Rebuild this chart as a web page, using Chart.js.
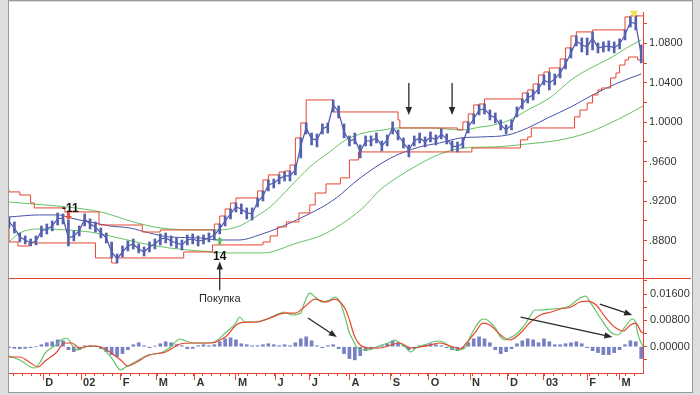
<!DOCTYPE html>
<html lang="ru">
<head>
    <meta charset="UTF-8">
    <title>EUR/USD</title>
    <style>
        html, body { margin: 0; padding: 0; background: #fff; }
        #wrap { width: 700px; height: 395px; }
    </style>
</head>
<body>
<div id="wrap"><canvas id="myChart" width="700" height="395"></canvas></div>

<script src="https://cdn.jsdelivr.net/npm/chart.js"></script>
<script>
    // x axis is counted in trading days from the first bar
    const monthDays = [19, 40, 62, 82, 103, 126, 148, 167, 189, 212, 233, 256, 277, 297, 321, 339];
    const monthLabels = ['D', '02', 'F', 'M', 'A', 'M', 'J', 'J', 'A', 'S', 'O', 'N', 'D', '03', 'F', 'M'];

    const priceTicks = [0.86, 0.88, 0.90, 0.92, 0.94, 0.96, 0.98, 1.00, 1.02, 1.04, 1.06, 1.08, 1.10];
    const priceLabels = [0.88, 0.92, 0.96, 1.00, 1.04, 1.08];
    const macdTicks = [-0.004, 0, 0.004, 0.008, 0.012, 0.016, 0.020];
    const macdLabels = [0, 0.008, 0.016];

    const barStep = 3; // one plotted bar every 3 trading days

    const priceHigh = [
        0.9040, 0.8990, 0.8878, 0.8848, 0.8817, 0.8848, 0.8949, 0.8969, 0.9000, 0.9081,
        0.9071, 0.9010, 0.8899, 0.8949, 0.9071, 0.9020, 0.8990, 0.8929, 0.8878, 0.8787,
        0.8665, 0.8746, 0.8797, 0.8817, 0.8767, 0.8736, 0.8787, 0.8817, 0.8868, 0.8878,
        0.8848, 0.8828, 0.8807, 0.8858, 0.8868, 0.8848, 0.8858, 0.8878, 0.8909, 0.8969,
        0.9050, 0.9121, 0.9182, 0.9172, 0.9132, 0.9132, 0.9233, 0.9304, 0.9415, 0.9425,
        0.9466, 0.9496, 0.9506, 0.9567, 0.9841, 0.9993, 0.9891, 0.9881, 0.9983, 0.9993,
        1.0226, 1.0165, 0.9983, 0.9861, 0.9891, 0.9770, 0.9861, 0.9861, 0.9891, 0.9810,
        0.9871, 1.0003, 0.9922, 0.9841, 0.9770, 0.9861, 0.9891, 0.9851, 0.9902, 0.9871,
        0.9932, 0.9881, 0.9810, 0.9800, 0.9841, 1.0003, 1.0084, 1.0175, 1.0185, 1.0124,
        1.0094, 1.0023, 0.9972, 1.0023, 1.0155, 1.0236, 1.0297, 1.0327, 1.0388, 1.0479,
        1.0509, 1.0489, 1.0550, 1.0641, 1.0753, 1.0874, 1.0854, 1.0854, 1.0915, 1.0803,
        1.0813, 1.0824, 1.0813, 1.0844, 1.0935, 1.1067, 1.1077, 1.0783
    ];
    const priceLow = [
        0.8929, 0.8878, 0.8787, 0.8767, 0.8746, 0.8757, 0.8838, 0.8868, 0.8899, 0.8959,
        0.8969, 0.8746, 0.8797, 0.8848, 0.8949, 0.8919, 0.8888, 0.8828, 0.8777, 0.8625,
        0.8574, 0.8635, 0.8696, 0.8716, 0.8676, 0.8645, 0.8686, 0.8716, 0.8757, 0.8777,
        0.8746, 0.8726, 0.8706, 0.8757, 0.8767, 0.8746, 0.8767, 0.8787, 0.8807, 0.8868,
        0.8949, 0.9020, 0.9091, 0.9071, 0.9020, 0.9010, 0.9142, 0.9202, 0.9304, 0.9334,
        0.9375, 0.9405, 0.9405, 0.9466, 0.9638, 0.9881, 0.9770, 0.9750, 0.9881, 0.9891,
        1.0104, 1.0043, 0.9841, 0.9760, 0.9780, 0.9638, 0.9760, 0.9760, 0.9790, 0.9709,
        0.9760, 0.9881, 0.9821, 0.9739, 0.9648, 0.9760, 0.9790, 0.9750, 0.9800, 0.9770,
        0.9831, 0.9780, 0.9709, 0.9699, 0.9739, 0.9891, 0.9983, 1.0074, 1.0084, 1.0023,
        0.9993, 0.9922, 0.9881, 0.9922, 1.0054, 1.0135, 1.0195, 1.0226, 1.0287, 1.0378,
        1.0327, 1.0378, 1.0449, 1.0540, 1.0651, 1.0773, 1.0712, 1.0682, 1.0732, 1.0702,
        1.0712, 1.0722, 1.0702, 1.0743, 1.0834, 1.0965, 1.0935, 1.0601
    ];
    const priceClose = [
        0.8990, 0.8929, 0.8838, 0.8807, 0.8777, 0.8797, 0.8899, 0.8919, 0.8949, 0.9020,
        0.9030, 0.8828, 0.8848, 0.8899, 0.9020, 0.8969, 0.8939, 0.8878, 0.8828, 0.8686,
        0.8615, 0.8686, 0.8746, 0.8767, 0.8716, 0.8686, 0.8736, 0.8767, 0.8817, 0.8828,
        0.8797, 0.8777, 0.8757, 0.8807, 0.8817, 0.8797, 0.8807, 0.8828, 0.8858, 0.8919,
        0.9000, 0.9071, 0.9142, 0.9121, 0.9081, 0.9071, 0.9192, 0.9253, 0.9365, 0.9385,
        0.9425, 0.9456, 0.9456, 0.9517, 0.9760, 0.9942, 0.9831, 0.9821, 0.9932, 0.9962,
        1.0175, 1.0104, 0.9902, 0.9810, 0.9831, 0.9699, 0.9810, 0.9810, 0.9841, 0.9760,
        0.9821, 0.9952, 0.9871, 0.9790, 0.9719, 0.9810, 0.9841, 0.9800, 0.9851, 0.9821,
        0.9881, 0.9831, 0.9760, 0.9750, 0.9790, 0.9952, 1.0033, 1.0124, 1.0135, 1.0074,
        1.0043, 0.9972, 0.9922, 0.9972, 1.0104, 1.0185, 1.0246, 1.0277, 1.0337, 1.0428,
        1.0398, 1.0439, 1.0499, 1.0591, 1.0702, 1.0824, 1.0783, 1.0763, 1.0854, 1.0753,
        1.0763, 1.0773, 1.0753, 1.0793, 1.0884, 1.1016, 1.0996, 1.0682
    ];

    // [day, price]
    const maLine = [[0,0.9040],[17,0.9061],[28,0.9061],[34,0.9030],[45,0.8990],[56,0.8949],[67,0.8929],[78,0.8878],
        [89,0.8838],[106,0.8828],[117,0.8807],[128,0.8807],[139,0.8858],[151,0.8939],[162,0.9030],[173,0.9132],
        [181,0.9223],[195,0.9436],[212,0.9638],[228,0.9750],[239,0.9790],[251,0.9841],[262,0.9851],[277,0.9871],
        [288,0.9942],[299,1.0043],[312,1.0155],[324,1.0276],[338,1.0398],[351,1.0489]];
    const bandUpper = [[0,0.9192],[13,0.9172],[32,0.9142],[51,0.9091],[69,0.8990],[84,0.8929],[106,0.8909],[117,0.8909],
        [128,0.8949],[134,0.9010],[145,0.9142],[156,0.9344],[167,0.9547],[178,0.9699],[187,0.9821],[197,0.9891],
        [208,0.9922],[216,0.9942],[234,0.9942],[251,0.9922],[262,0.9952],[269,0.9972],[278,1.0023],[288,1.0124],
        [301,1.0256],[312,1.0428],[321,1.0530],[334,1.0651],[343,1.0753],[351,1.0834]];
    const bandLower = [[0,0.8787],[6,0.8878],[17,0.8919],[32,0.8909],[45,0.8888],[56,0.8848],[73,0.8777],[89,0.8726],
        [106,0.8696],[123,0.8676],[141,0.8676],[160,0.8777],[174,0.8858],[188,0.9010],[197,0.9142],[206,0.9314],
        [216,0.9446],[227,0.9567],[238,0.9668],[252,0.9739],[269,0.9750],[288,0.9780],[306,0.9821],[321,0.9891],
        [334,0.9993],[343,1.0074],[352,1.0165]];
    const chanUpper = [[0,0.9314],[6,0.9294],[12,0.9263],[14,0.9182],[31,0.9132],[50,0.9091],[74,0.8959],[84,0.8888],
        [114,0.8909],[117,0.8969],[120,0.9050],[123,0.9121],[126,0.9182],[138,0.9233],[141,0.9304],[144,0.9415],
        [150,0.9466],[153,0.9496],[156,0.9506],[159,0.9567],[162,0.9841],[165,0.9993],[180,1.0226],[216,1.0104],
        [217,1.0023],[249,0.9942],[252,0.9922],[255,1.0003],[258,1.0084],[261,1.0175],[264,1.0185],[285,1.0236],
        [288,1.0297],[291,1.0327],[294,1.0388],[297,1.0479],[300,1.0509],[306,1.0550],[309,1.0641],[312,1.0753],
        [315,1.0874],[324,1.0915],[342,1.0935],[345,1.1067],[348,1.1077],[352,1.1077]];
    const chanLower = [[0,0.8929],[5,0.8787],[11,0.8746],[48,0.8777],[57,0.8625],[60,0.8574],[97,0.8625],[113,0.8686],
        [141,0.8757],[145,0.8787],[149,0.8848],[154,0.8939],[161,0.8990],[167,0.9081],[170,0.9162],[176,0.9283],
        [184,0.9375],[189,0.9436],[194,0.9618],[257,0.9699],[284,0.9739],[288,0.9821],[290,0.9851],[314,0.9942],
        [317,1.0054],[321,1.0124],[324,1.0195],[327,1.0276],[329,1.0327],[334,1.0347],[337,1.0449],[339,1.0499],
        [342,1.0580],[344,1.0631],[346,1.0661],[349,1.0661],[352,1.0631]];

    // MACD panel, [day, value]
    const macdLine = [[0,-0.00283],[6,-0.00404],[12,-0.00617],[14,-0.00648],[17,-0.00496],[20,-0.00192],[26,0.00052],
        [29,0.00204],[32,0.00264],[35,0.00052],[38,-0.00100],[42,-0.00009],[48,0.00021],[53,-0.00100],[57,-0.00344],
        [62,-0.00708],[64,-0.00648],[70,-0.00465],[77,-0.00252],[84,-0.00192],[89,-0.00040],[95,0.00234],[98,0.00173],
        [103,0.00112],[109,0.00112],[114,0.00143],[120,0.00416],[126,0.00720],[128,0.00903],[131,0.00751],[137,0.00751],
        [142,0.00812],[148,0.00964],[153,0.01055],[157,0.00964],[162,0.01024],[164,0.01328],[167,0.01632],[170,0.01511],
        [174,0.01359],[178,0.01420],[181,0.01511],[184,0.01328],[187,0.00812],[189,0.00416],[191,0.00204],[193,-0.00009],
        [195,-0.00100],[199,-0.00100],[203,-0.00040],[207,0.00052],[212,0.00143],[214,0.00204],[217,0.00112],[220,-0.00009],
        [223,-0.00161],[226,-0.00040],[231,0.00052],[235,0.00143],[239,0.00173],[242,0.00112],[245,-0.00009],[248,-0.00100],
        [253,-0.00040],[256,0.00295],[259,0.00599],[262,0.00812],[264,0.00842],[267,0.00751],[270,0.00568],[273,0.00295],
        [276,0.00204],[278,0.00264],[281,0.00356],[284,0.00508],[287,0.00720],[289,0.00903],[292,0.01116],[295,0.01116],
        [301,0.01146],[310,0.01207],[317,0.01480],[320,0.01541],[323,0.01328],[328,0.00903],[334,0.00447],[338,0.00356],
        [342,0.00599],[346,0.00842],[348,0.00720],[349,0.00416],[352,-0.00009]];
    const signalLine = [[0,-0.00313],[6,-0.00313],[12,-0.00496],[16,-0.00617],[20,-0.00435],[26,-0.00192],[31,0.00112],
        [35,0.00112],[39,-0.00040],[45,0.00021],[51,-0.00009],[56,-0.00161],[62,-0.00404],[66,-0.00587],[70,-0.00496],
        [78,-0.00252],[87,-0.00161],[95,0.00082],[103,0.00112],[112,0.00112],[120,0.00295],[128,0.00720],[137,0.00751],
        [145,0.00872],[153,0.01024],[159,0.01024],[164,0.01207],[170,0.01450],[176,0.01359],[181,0.01450],[187,0.01116],
        [189,0.00812],[192,0.00295],[195,0.00052],[201,-0.00040],[206,-0.00040],[212,0.00052],[217,0.00112],[223,-0.00040],
        [228,-0.00009],[234,0.00052],[239,0.00112],[245,0.00021],[251,-0.00070],[253,0.00052],[259,0.00447],[263,0.00720],
        [267,0.00660],[273,0.00356],[278,0.00204],[284,0.00416],[289,0.00720],[295,0.00964],[301,0.01055],[306,0.01146],
        [312,0.01207],[317,0.01359],[321,0.01389],[326,0.01268],[331,0.00903],[337,0.00568],[341,0.00477],[345,0.00660],
        [348,0.00720],[351,0.00447],[352,0.00416]];
    const histValues = [
        -0.0003, -0.0005, -0.0006, -0.0005, -0.0003, 0, 0.0006, 0.0012, 0.0015, 0.0021,
        0.0018, -0.0009, -0.0015, -0.0009, 0.0003, 0.0003, 0.0002, -0.0006, -0.0015, -0.0024,
        -0.0030, -0.0021, -0.0009, 0.0006, 0.0012, 0.0003, -0.0003, 0.0002, 0.0009, 0.0015,
        0.0012, 0.0006, 0.0003, -0.0006, -0.0005, 0.0003, 0.0006, 0.0003, 0.0006, 0.0015,
        0.0024, 0.0027, 0.0021, 0.0009, 0.0006, 0.0003, 0.0003, 0.0006, 0.0009, 0.0006,
        0.0003, 0.0006, 0.0003, 0.0012, 0.0024, 0.0030, 0.0018, 0.0003, -0.0003, 0.0003,
        0.0006, -0.0006, -0.0021, -0.0036, -0.0040, -0.0027, -0.0012, -0.0006, -0.0003, 0.0003,
        0.0009, 0.0018, 0.0012, 0.0003, -0.0009, -0.0006, 0.0003, 0.0006, 0.0009, 0.0006,
        0.0003, -0.0003, -0.0009, -0.0012, -0.0003, 0.0012, 0.0024, 0.0030, 0.0024, 0.0012,
        -0.0009, -0.0021, -0.0015, -0.0006, 0.0009, 0.0018, 0.0024, 0.0021, 0.0012, 0.0024,
        0.0015, 0.0006, 0.0006, 0.0009, 0.0012, 0.0015, 0.0009, -0.0003, -0.0012, -0.0018,
        -0.0024, -0.0024, -0.0018, -0.0009, 0.0006, 0.0018, 0.0015, -0.0036
    ];

    // notes drawn on top
    const downArrowDays = [222, 246];
    const buyDay = 117;
    const macdArrows = [[166, 0.00872, 182, 0.00295], [284, 0.00903, 335, 0.00295], [328, 0.01298, 346, 0.00964]];

    const RED = '#e4462f';
    const GREEN = '#66c266';
    const BLUE = '#4a53a8';
    const BAR = '#5561ae';
    const INK = '#2a2a2a';
    const FONT = "'Liberation Sans', Arial, sans-serif";

    Chart.defaults.font.family = FONT;
    Chart.defaults.font.size = 11;
    Chart.defaults.color = '#333';

    const pts = arr => arr.map(p => ({ x: p[0], y: p[1] }));

    function arrow(c, x1, y1, x2, y2) {
        const a = Math.atan2(y2 - y1, x2 - x1);
        const len = 8, w = 3.2;
        c.beginPath();
        c.moveTo(x1, y1);
        c.lineTo(x2 - Math.cos(a) * len * 0.7, y2 - Math.sin(a) * len * 0.7);
        c.stroke();
        c.beginPath();
        c.moveTo(x2, y2);
        c.lineTo(x2 - len * Math.cos(a) + w * Math.sin(a), y2 - len * Math.sin(a) - w * Math.cos(a));
        c.lineTo(x2 - len * Math.cos(a) - w * Math.sin(a), y2 - len * Math.sin(a) + w * Math.cos(a));
        c.closePath();
        c.fill();
    }

    const decor = {
        id: 'decor',
        beforeDraw(chart) {
            const c = chart.ctx;
            c.save();
            c.fillStyle = '#dedede';
            c.fillRect(0, 0, chart.width, chart.height);
            c.fillStyle = '#ffffff';
            c.fillRect(9, 2, 683, 390);
            c.strokeStyle = '#999';
            c.lineWidth = 1;
            c.strokeRect(8.5, 0.5, 684, 392);
            c.restore();
        },
        afterDraw(chart) {
            const c = chart.ctx;
            const xs = chart.scales.x, ys = chart.scales.y, ms = chart.scales.y2;
            const area = chart.chartArea;
            c.save();
            c.strokeStyle = RED;
            c.lineWidth = 1;
            c.beginPath();
            // value axis line (starts a little below the top, as in the original)
            const ax = Math.round(ys.left) + 0.5;
            c.moveTo(ax, ys.top + 10);
            c.lineTo(ax, ms.bottom);
            // panel separator
            c.moveTo(area.left, Math.round(ys.bottom) + 0.5);
            c.lineTo(691, Math.round(ys.bottom) + 0.5);
            // weekly ticks on the date axis
            for (let d = 2; d < 352; d += 5) {
                const px = Math.round(xs.getPixelForValue(d)) + 0.5;
                c.moveTo(px, area.bottom);
                c.lineTo(px, area.bottom + 3);
            }
            c.stroke();

            // value labels of both panels
            c.fillStyle = '#333';
            c.font = '11px ' + FONT;
            c.textAlign = 'left';
            c.textBaseline = 'middle';
            priceLabels.forEach(v => {
                const s = v.toFixed(4);
                c.fillText(v < 1 ? s.slice(1) : s, ys.left + 6, ys.getPixelForValue(v));
            });
            macdLabels.forEach(v => {
                c.fillText(v.toFixed(5), ms.left + 7, ms.getPixelForValue(v));
            });

            c.strokeStyle = INK;
            c.fillStyle = INK;
            c.lineWidth = 1.3;
            downArrowDays.forEach(d => {
                const px = xs.getPixelForValue(d);
                arrow(c, px, ys.getPixelForValue(1.0398), px, ys.getPixelForValue(1.0074));
            });
            const bx = xs.getPixelForValue(buyDay);
            arrow(c, bx, ms.getPixelForValue(0.0172), bx, ys.getPixelForValue(0.8590));
            macdArrows.forEach(a => {
                arrow(c, xs.getPixelForValue(a[0]), ms.getPixelForValue(a[1]),
                         xs.getPixelForValue(a[2]), ms.getPixelForValue(a[3]));
            });

            c.textAlign = 'center';
            c.font = '11px ' + FONT;
            c.fillText('Покупка', bx, ms.getPixelForValue(0.0146));
            c.font = 'bold 12px ' + FONT;
            c.fillStyle = '#111';
            c.fillText('14', bx, ys.getPixelForValue(0.8636));
            c.fillText('-11', xs.getPixelForValue(34), ys.getPixelForValue(0.9125));

            // small signal markers
            let mx = xs.getPixelForValue(33), my = ys.getPixelForValue(0.9040);
            c.fillStyle = '#e8503a';
            c.fillRect(mx - 1.5, my - 5, 3, 4);
            c.beginPath(); c.moveTo(mx - 3.5, my - 1); c.lineTo(mx + 3.5, my - 1); c.lineTo(mx, my + 3); c.closePath(); c.fill();
            mx = xs.getPixelForValue(117); my = ys.getPixelForValue(0.8800);
            c.fillStyle = '#5fbf5f';
            c.fillRect(mx - 1.5, my, 3, 4);
            c.beginPath(); c.moveTo(mx - 3.5, my); c.lineTo(mx + 3.5, my); c.lineTo(mx, my - 4); c.closePath(); c.fill();
            mx = xs.getPixelForValue(347); my = ys.getPixelForValue(1.1090);
            c.fillStyle = '#f2e24a';
            c.beginPath(); c.moveTo(mx - 4, my - 4); c.lineTo(mx + 4, my - 4); c.lineTo(mx, my + 3); c.closePath(); c.fill();
            c.restore();
        }
    };

    const ctx = document.getElementById('myChart');
    const myChart = new Chart(ctx, {
        type: 'line',
        data: {
            datasets: [
                {
                    type: 'bar',
                    data: priceHigh.map((h, i) => ({ x: i * barStep, y: [priceLow[i], h] })),
                    yAxisID: 'y',
                    backgroundColor: BAR,
                    barThickness: 2,
                    grouped: false
                },
                {
                    data: priceClose.map((v, i) => ({ x: i * barStep, y: v })),
                    yAxisID: 'y',
                    borderColor: '#4b56a6',
                    borderWidth: 1.2,
                    pointRadius: 0
                },
                {
                    data: pts(signalLine),
                    yAxisID: 'y2',
                    borderColor: RED,
                    borderWidth: 1.2,
                    pointRadius: 0,
                    cubicInterpolationMode: 'monotone'
                },
                {
                    data: pts(macdLine),
                    yAxisID: 'y2',
                    borderColor: GREEN,
                    borderWidth: 1.2,
                    pointRadius: 0,
                    cubicInterpolationMode: 'monotone'
                },
                {
                    type: 'bar',
                    data: histValues.map((v, i) => ({ x: i * barStep, y: v })),
                    yAxisID: 'y2',
                    backgroundColor: '#7880c4',
                    barThickness: 3,
                    grouped: false
                },
                {
                    data: pts(chanUpper),
                    yAxisID: 'y',
                    borderColor: RED,
                    borderWidth: 1,
                    pointRadius: 0,
                    stepped: 'after'
                },
                {
                    data: pts(chanLower),
                    yAxisID: 'y',
                    borderColor: RED,
                    borderWidth: 1,
                    pointRadius: 0,
                    stepped: 'after'
                },
                {
                    data: pts(maLine),
                    yAxisID: 'y',
                    borderColor: BLUE,
                    borderWidth: 1,
                    pointRadius: 0,
                    cubicInterpolationMode: 'monotone'
                },
                {
                    data: pts(bandUpper),
                    yAxisID: 'y',
                    borderColor: GREEN,
                    borderWidth: 1,
                    pointRadius: 0,
                    cubicInterpolationMode: 'monotone'
                },
                {
                    data: pts(bandLower),
                    yAxisID: 'y',
                    borderColor: GREEN,
                    borderWidth: 1,
                    pointRadius: 0,
                    cubicInterpolationMode: 'monotone'
                }
            ]
        },
        options: {
            responsive: false,
            animation: false,
            devicePixelRatio: 1,
            events: [],
            layout: { padding: { left: 9, right: 0, top: 2, bottom: 2 } },
            plugins: { legend: { display: false }, tooltip: { enabled: false } },
            scales: {
                x: {
                    type: 'linear',
                    position: 'bottom',
                    min: 0,
                    max: 352,
                    offset: false,
                    border: { color: RED },
                    grid: { drawOnChartArea: false, color: RED, tickLength: 7, offset: false },
                    afterBuildTicks: axis => { axis.ticks = monthDays.map(v => ({ value: v })); },
                    afterFit: axis => { axis.height = 20; },
                    ticks: {
                        autoSkip: false,
                        maxRotation: 0,
                        align: 'start',
                        labelOffset: 2,
                        padding: -4,
                        font: { weight: 'bold', size: 11 },
                        callback: (v, i) => monthLabels[i]
                    }
                },
                y: {
                    type: 'linear',
                    position: 'right',
                    stack: 'panels',
                    stackWeight: 276,
                    min: 0.8422,
                    max: 1.1218,
                    border: { display: false },
                    grid: { drawOnChartArea: false, color: RED, tickLength: 4 },
                    afterBuildTicks: axis => { axis.ticks = priceTicks.map(v => ({ value: v })); },
                    afterFit: axis => { axis.width = 57; },
                    ticks: { display: false }
                },
                y2: {
                    type: 'linear',
                    position: 'right',
                    stack: 'panels',
                    stackWeight: 95,
                    min: -0.0080,
                    max: 0.0209,
                    border: { display: false },
                    grid: { drawOnChartArea: false, color: RED, tickLength: 4 },
                    afterBuildTicks: axis => { axis.ticks = macdTicks.map(v => ({ value: v })); },
                    afterFit: axis => { axis.width = 57; },
                    ticks: { display: false }
                }
            }
        },
        plugins: [decor]
    });
</script>
</body>
</html>
